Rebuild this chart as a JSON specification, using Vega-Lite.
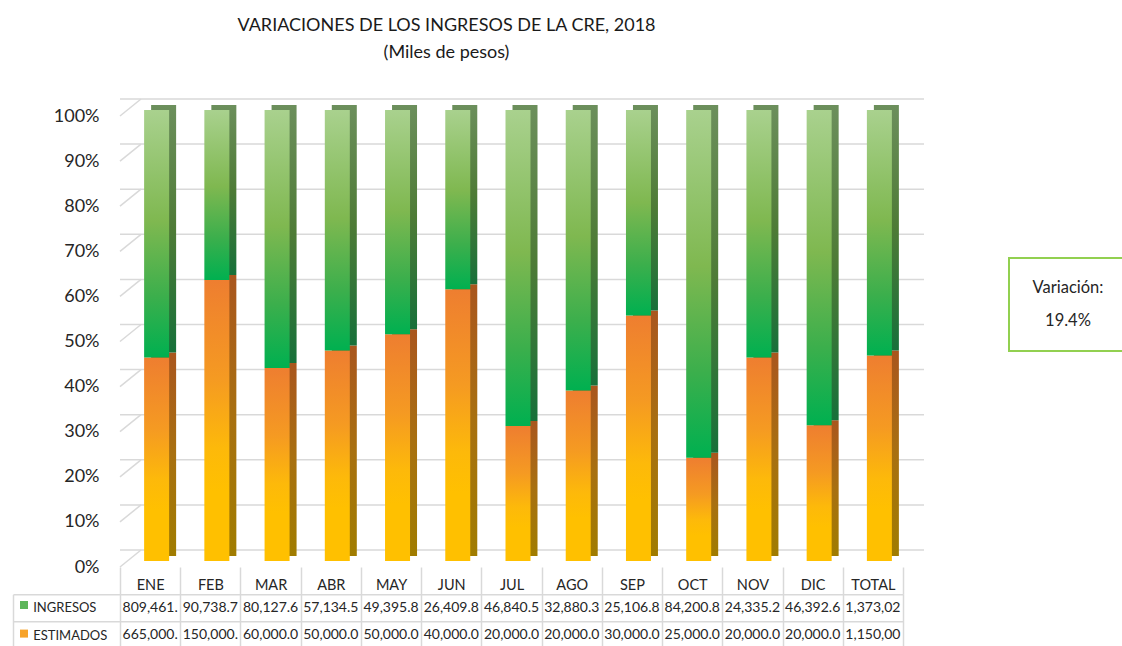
{
  "$schema": "https://vega.github.io/schema/vega-lite/v6.json",
  "background": "white",
  "padding": {"left": 12, "top": 17, "right": 0, "bottom": 0},
  "config": {"view": {"stroke": null}, "font": "Lato", "text": {"font": "Lato"}},
  "datasets": {
    "ingresos": [
      {"mes": "ENE", "INGRESOS": 809461.0, "ESTIMADOS": 665000},
      {"mes": "FEB", "INGRESOS": 90738.7, "ESTIMADOS": 150000},
      {"mes": "MAR", "INGRESOS": 80127.6, "ESTIMADOS": 60000},
      {"mes": "ABR", "INGRESOS": 57134.5, "ESTIMADOS": 50000},
      {"mes": "MAY", "INGRESOS": 49395.8, "ESTIMADOS": 50000},
      {"mes": "JUN", "INGRESOS": 26409.8, "ESTIMADOS": 40000},
      {"mes": "JUL", "INGRESOS": 46840.5, "ESTIMADOS": 20000},
      {"mes": "AGO", "INGRESOS": 32880.3, "ESTIMADOS": 20000},
      {"mes": "SEP", "INGRESOS": 25106.8, "ESTIMADOS": 30000},
      {"mes": "OCT", "INGRESOS": 84200.8, "ESTIMADOS": 25000},
      {"mes": "NOV", "INGRESOS": 24335.2, "ESTIMADOS": 20000},
      {"mes": "DIC", "INGRESOS": 46392.6, "ESTIMADOS": 20000},
      {"mes": "TOTAL", "INGRESOS": 1373023.6, "ESTIMADOS": 1150000}
    ],
    "grid": [{"v": 0}, {"v": 0.1}, {"v": 0.2}, {"v": 0.3}, {"v": 0.4}, {"v": 0.5}, {"v": 0.6}, {"v": 0.7}, {"v": 0.8}, {"v": 0.9}, {"v": 1}],
    "caja": [{"linea": "Variación:"}, {"linea": "19.4%"}]
  },
  "spacing": 83,
  "hconcat": [
    {
      "title": {
        "text": ["VARIACIONES DE LOS INGRESOS DE LA CRE, 2018", "(Miles de pesos)"],
        "font": "Lato", "fontSize": 18, "fontWeight": "normal", "color": "#1a1a1a",
        "lineHeight": 27, "anchor": "middle", "dx": -22, "offset": 36
      },
      "bounds": "flush",
      "spacing": 27.3,
      "vconcat": [
        {
          "width": 783,
          "height": 451,
          "layer": [
            {
              "data": {"name": "grid"},
              "mark": {"type": "rule", "color": "#d9d9d9", "strokeWidth": 1.5, "xOffset": 21, "x2Offset": 21, "yOffset": -17},
              "encoding": {
                "y": {
                  "field": "v", "type": "quantitative", "title": null,
                  "scale": {"domain": [0, 1]},
                  "axis": {
                    "title": null, "values": [0, 0.1, 0.2, 0.3, 0.4, 0.5, 0.6, 0.7, 0.8, 0.9, 1],
                    "format": ".0%", "domain": false, "ticks": false, "grid": false,
                    "labelFontSize": 18, "labelColor": "#262626", "labelFont": "Lato", "labelPadding": 21
                  }
                }
              }
            },
            {
              "data": {"name": "grid"},
              "mark": {"type": "rule", "color": "#d9d9d9", "strokeWidth": 1.5, "x2Offset": 21, "y2Offset": -17},
              "encoding": {
                "x": {"datum": "ENE", "type": "nominal", "bandPosition": 0},
                "x2": {"datum": "ENE", "bandPosition": 0},
                "y": {"field": "v", "type": "quantitative", "title": null},
                "y2": {"field": "v"}
              }
            },
            {
              "data": {"name": "ingresos"},
              "transform": [
                {"fold": ["ESTIMADOS", "INGRESOS"], "as": ["serie", "valor"]},
                {"stack": "valor", "groupby": ["mes"], "offset": "normalize", "sort": [{"field": "serie", "order": "ascending"}], "as": ["y0", "y1"]}
              ],
              "layer": [
                {
                  "transform": [{"filter": "datum.serie === 'ESTIMADOS'"}],
                  "mark": {
                    "type": "bar", "width": 25, "xOffset": 13.5, "yOffset": -11, "y2Offset": -11,
                    "fill": {"gradient": "linear", "x1": 0, "y1": 0, "x2": 0, "y2": 1,
                      "stops": [{"offset": 0, "color": "#A9561E"}, {"offset": 0.5, "color": "#A87010"}, {"offset": 1, "color": "#A07C00"}]}
                  },
                  "encoding": {
                    "x": {
                      "field": "mes", "type": "nominal", "sort": null,
                      "scale": {"domain": ["ENE","FEB","MAR","ABR","MAY","JUN","JUL","AGO","SEP","OCT","NOV","DIC","TOTAL"], "paddingInner": 0, "paddingOuter": 0},
                      "axis": {
                        "title": null, "domain": false, "grid": false, "ticks": true, "tickBand": "extent",
                        "tickSize": 27.3, "tickColor": "#d9d9d9", "tickWidth": 1.5,
                        "labelAngle": 0, "labelAlign": "center", "labelBaseline": "middle", "labelPadding": -9.3,
                        "labelFontSize": 14.5, "labelColor": "#262626", "labelFont": "Lato"
                      }
                    },
                    "y": {"field": "y1", "type": "quantitative", "title": null},
                    "y2": {"field": "y0"}
                  }
                },
                {
                  "transform": [{"filter": "datum.serie === 'INGRESOS'"}],
                  "mark": {
                    "type": "bar", "width": 25, "xOffset": 13.5, "yOffset": -11, "y2Offset": -11,
                    "fill": {"gradient": "linear", "x1": 0, "y1": 0, "x2": 0, "y2": 1,
                      "stops": [{"offset": 0, "color": "#6C8F5C"}, {"offset": 0.5, "color": "#4E7B36"}, {"offset": 1, "color": "#17703A"}]}
                  },
                  "encoding": {
                    "x": {"field": "mes", "type": "nominal", "sort": null},
                    "y": {"field": "y1", "type": "quantitative", "title": null},
                    "y2": {"field": "y0"}
                  }
                },
                {
                  "transform": [{"filter": "datum.serie === 'ESTIMADOS'"}],
                  "mark": {
                    "type": "bar", "width": 25, "xOffset": 6.5, "yOffset": -6, "y2Offset": -6,
                    "fill": {"gradient": "linear", "x1": 0, "y1": 0, "x2": 0, "y2": 1,
                      "stops": [{"offset": 0, "color": "#EE7E30"}, {"offset": 0.35, "color": "#F59A22"}, {"offset": 0.6, "color": "#FDB90A"}, {"offset": 0.75, "color": "#FFC000"}, {"offset": 1, "color": "#FFC000"}]}
                  },
                  "encoding": {
                    "x": {"field": "mes", "type": "nominal", "sort": null},
                    "y": {"field": "y1", "type": "quantitative", "title": null},
                    "y2": {"field": "y0"}
                  }
                },
                {
                  "transform": [{"filter": "datum.serie === 'INGRESOS'"}],
                  "mark": {
                    "type": "bar", "width": 25, "xOffset": 6.5, "yOffset": -6, "y2Offset": -6,
                    "fill": {"gradient": "linear", "x1": 0, "y1": 0, "x2": 0, "y2": 1,
                      "stops": [{"offset": 0, "color": "#A9D18E"}, {"offset": 0.45, "color": "#7FB850"}, {"offset": 0.75, "color": "#3CAF4C"}, {"offset": 1, "color": "#00B050"}]}
                  },
                  "encoding": {
                    "x": {"field": "mes", "type": "nominal", "sort": null},
                    "y": {"field": "y1", "type": "quantitative", "title": null},
                    "y2": {"field": "y0"}
                  }
                }
              ]
            }
          ]
        },
        {
          "width": 783,
          "height": 54.6,
          "data": {"name": "ingresos"},
          "transform": [{"fold": ["INGRESOS", "ESTIMADOS"], "as": ["serie", "valor"]}],
          "layer": [
            {
              "mark": {"type": "text", "fontSize": 14, "color": "#262626", "limit": 58, "ellipsis": "\u200b"},
              "encoding": {
                "x": {
                  "field": "mes", "type": "nominal", "sort": null,
                  "scale": {"domain": ["ENE","FEB","MAR","ABR","MAY","JUN","JUL","AGO","SEP","OCT","NOV","DIC","TOTAL"], "paddingInner": 0, "paddingOuter": 0},
                  "axis": {"title": null, "grid": true, "tickBand": "extent", "labels": false, "ticks": false, "domain": false, "gridColor": "#d9d9d9", "gridWidth": 1.5}
                },
                "y": {
                  "field": "serie", "type": "nominal",
                  "scale": {"domain": ["INGRESOS", "ESTIMADOS"], "paddingInner": 0, "paddingOuter": 0},
                  "axis": {
                    "title": null, "grid": true, "tickBand": "extent",
                    "offset": 107, "domain": true, "domainColor": "#d9d9d9", "domainWidth": 1.5,
                    "gridColor": "#d9d9d9", "tickColor": "#d9d9d9",
                    "gridWidth": 1.5, "tickWidth": 1.5,
                    "ticks": true, "tickSize": -107,
                    "labelAlign": "left", "labelPadding": 87.3, "labelFontSize": 13, "labelColor": "#262626", "labelFont": "Lato"
                  }
                },
                "text": {"field": "valor", "type": "quantitative", "format": ",.1f"}
              }
            },
            {
              "mark": {"type": "square", "opacity": 0},
              "encoding": {
                "x": {"field": "mes", "type": "nominal", "sort": null},
                "y": {"field": "serie", "type": "nominal"},
                "color": {
                  "field": "serie", "type": "nominal",
                  "scale": {"domain": ["INGRESOS", "ESTIMADOS"], "range": ["#5DB65A", "#F7A32A"]},
                  "legend": {
                    "orient": "none", "legendX": -100, "legendY": 485, "title": null,
                    "symbolType": "square", "symbolSize": 64, "symbolOpacity": 1, "symbolStrokeWidth": 0,
                    "labelExpr": "''", "labelFontSize": 8, "rowPadding": 20.6, "padding": 0
                  }
                }
              }
            }
          ]
        }
      ]
    },
    {
      "bounds": "flush",
      "spacing": 0,
      "vconcat": [
        {
          "width": 118,
          "height": 142,
          "data": {"name": "caja"},
          "mark": {"type": "text", "opacity": 0},
          "encoding": {"text": {"field": "linea"}}
        },
        {
          "width": 118,
          "height": 93,
          "view": {"stroke": "#92D050", "strokeWidth": 2},
          "data": {"name": "caja"},
          "mark": {"type": "text", "fontSize": 16.5, "color": "#262626"},
          "encoding": {
            "y": {"field": "linea", "type": "nominal", "sort": null, "scale": {"type": "point", "padding": 0.87}, "axis": null},
            "text": {"field": "linea"}
          }
        }
      ]
    }
  ]
}
